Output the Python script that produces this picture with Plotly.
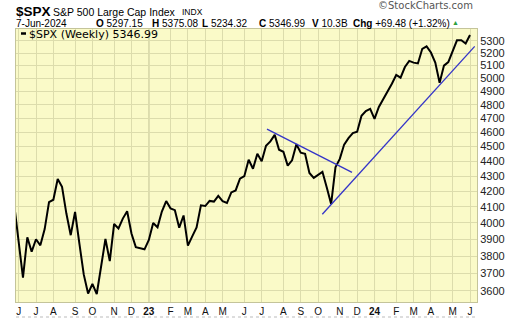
import math
import pandas as pd
import plotly.graph_objects as go

# ---------------- data ----------------
# weekly bars (week starting Monday); first bar = week ending 3-Jun-2022
week_start = pd.date_range("2022-05-30", periods=106, freq="7D")
spx_close = [
    4108.54, 3900.86, 3674.84, 3911.74, 3825.33, 3899.38, 3863.16, 3961.63, 4130.29,
    4145.19, 4280.15, 4228.48, 4057.66, 3924.26, 4067.36, 3873.33, 3693.23, 3585.62,
    3639.66, 3583.07, 3752.75, 3901.06, 3770.55, 3992.93, 3965.34, 4026.12, 4071.70,
    3934.38, 3852.36, 3844.82, 3839.50,
    3895.08, 3999.09, 3972.61, 4070.56, 4136.48, 4090.46, 4079.09, 3970.04, 4045.64,
    3861.59, 3916.64, 3970.99, 4109.31, 4105.02, 4137.64, 4133.52, 4169.48, 4136.25,
    4124.08, 4191.98, 4205.45, 4282.37, 4298.86, 4409.59, 4348.33, 4450.38, 4398.95,
    4505.42, 4536.34, 4582.23, 4478.03, 4464.05, 4369.71, 4405.71, 4515.77, 4457.49,
    4450.32, 4320.06, 4288.05, 4308.50, 4327.78, 4224.16, 4117.37, 4358.34, 4415.24,
    4514.02, 4559.34, 4594.63, 4604.37, 4719.19, 4754.63, 4769.83,
    4697.24, 4783.83, 4839.81, 4890.97, 4958.61, 5026.61, 5005.57, 5088.80, 5137.08,
    5123.69, 5117.09, 5234.18, 5254.35, 5204.34, 5123.41, 4967.23, 5099.96, 5127.79,
    5222.68, 5303.27, 5304.72, 5277.51, 5346.99,
]

trend_down_dates = ["2023-07-11 14:00", "2023-11-25 17:00"]
trend_down_values = [4623, 4324]
trend_up_dates = ["2023-10-08 19:00", "2024-06-10 14:00"]
trend_up_values = [4053, 5254]

month_ticks = [
    "2022-06-06", "2022-07-04", "2022-08-01", "2022-09-05", "2022-10-03", "2022-11-07",
    "2022-12-05", "2023-01-02", "2023-02-06", "2023-03-06", "2023-04-03", "2023-05-01",
    "2023-06-05", "2023-07-03", "2023-08-07", "2023-09-04", "2023-10-02", "2023-11-06",
    "2023-12-04", "2024-01-01", "2024-02-05", "2024-03-04", "2024-04-01", "2024-05-06",
    "2024-06-03",
]
month_labels = [
    "J", "J", "A", "S", "O", "N", "D", "<b>23</b>", "F", "M", "A", "M",
    "J", "J", "A", "S", "O", "N", "D", "<b>24</b>", "F", "M", "A", "M", "J",
]
year_ticks = ["2023-01-02", "2024-01-01"]
y_ticks = [3600, 3700, 3800, 3900, 4000, 4100, 4200, 4300, 4400,
           4500, 4600, 4700, 4800, 4900, 5000, 5100, 5200, 5300]
y_labels = [str(v) for v in y_ticks]

# ---------------- layout helpers ----------------
W, H = 520, 318
L, R, T, B = 16, 43, 29, 16
PW, PH = W - L - R, H - T - B


def px(x):
    return (x - L) / PW


def py(y):
    return (H - B - y) / PH


BG = "#FAFAC8"
GRID = "#DCDCAC"
YEARGRID = "#ABAB80"
FONT = "Liberation Sans, Arial, sans-serif"

fig = go.Figure()
fig.add_trace(go.Scatter(x=week_start, y=spx_close, mode="lines",
                         line=dict(color="black", width=2), showlegend=False,
                         hoverinfo="skip"))
fig.add_trace(go.Scatter(x=trend_down_dates, y=trend_down_values, mode="lines",
                         line=dict(color="#3434C8", width=1.3), showlegend=False))
fig.add_trace(go.Scatter(x=trend_up_dates, y=trend_up_values, mode="lines",
                         line=dict(color="#3434C8", width=1.3), showlegend=False))

shapes = []
for d in year_ticks:
    shapes.append(dict(type="line", xref="x", yref="paper", x0=d, x1=d, y0=0, y1=1,
                       line=dict(color=YEARGRID, width=1), layer="between"))
# legend swatch
shapes.append(dict(type="line", xref="paper", yref="paper", x0=px(21), x1=px(26),
                   y0=py(33.5), y1=py(33.5), line=dict(color="black", width=2.5)))
# bottom dotted rule
shapes.append(dict(type="line", xref="paper", yref="paper", x0=px(16), x1=px(477),
                   y0=py(317), y1=py(317), line=dict(color="#BBBBBB", width=1, dash="dot")))

annotations = []


def txt(x, y, text, size, color="black", anchor="left", family=FONT):
    annotations.append(dict(xref="paper", yref="paper", x=px(x), y=py(y), text=text,
                            showarrow=False, xanchor=anchor, yanchor="middle",
                            borderpad=0, font=dict(size=size, color=color, family=family)))


txt(15, 11, "<b>$SPX</b>", 13.5)
txt(52, 12, "S&P 500 Large Cap Index", 10.5)
txt(181, 12, "INDX", 8.5)
txt(15, 23.5, "7-Jun-2024", 10)
txt(95, 23.5, "<b>O</b> 5297.15", 10)
txt(151, 23.5, "<b>H</b> 5375.08", 10)
txt(201, 23.5, "<b>L</b> 5234.32", 10)
txt(258, 23.5, "<b>C</b> 5346.99", 10)
txt(311, 23.5, "<b>V</b> 10.3B", 10)
txt(352, 23.5, "<b>Chg</b> +69.48 (+1.32%)", 10)
txt(451, 22.5, "▲", 7, color="#2E9E3E")
txt(474, 5, "©StockCharts.com", 10, color="#555555", anchor="right",
    family="DejaVu Sans, sans-serif")
txt(28, 34, "$SPX (Weekly) 5346.99", 11, family="DejaVu Sans, sans-serif")

fig.update_layout(
    width=W, height=H,
    margin=dict(l=L, r=R, t=T, b=B, pad=0),
    paper_bgcolor="white", plot_bgcolor=BG,
    showlegend=False,
    shapes=shapes, annotations=annotations,
    xaxis=dict(type="date", range=["2022-06-01 18:00", "2024-06-14 07:00"],
               automargin=False,
               tickmode="array", tickvals=month_ticks, ticktext=month_labels,
               showgrid=True, gridcolor=GRID, gridwidth=1, zeroline=False,
               ticks="", ticklen=0,
               tickfont=dict(size=10, family=FONT, color="#111111"),
               showline=True, mirror=True, linecolor="#C4C49A", linewidth=1),
    yaxis=dict(type="log", side="right", automargin=False,
               range=[math.log10(3539.2), math.log10(5396.9)],
               tickmode="array", tickvals=y_ticks, ticktext=y_labels,
               showgrid=True, gridcolor=GRID, gridwidth=1, zeroline=False,
               ticks="", ticklen=0,
               tickfont=dict(size=11, family=FONT, color="#222222"),
               showline=True, mirror=True, linecolor="#C4C49A", linewidth=1),
)

fig.write_html("out.html")
